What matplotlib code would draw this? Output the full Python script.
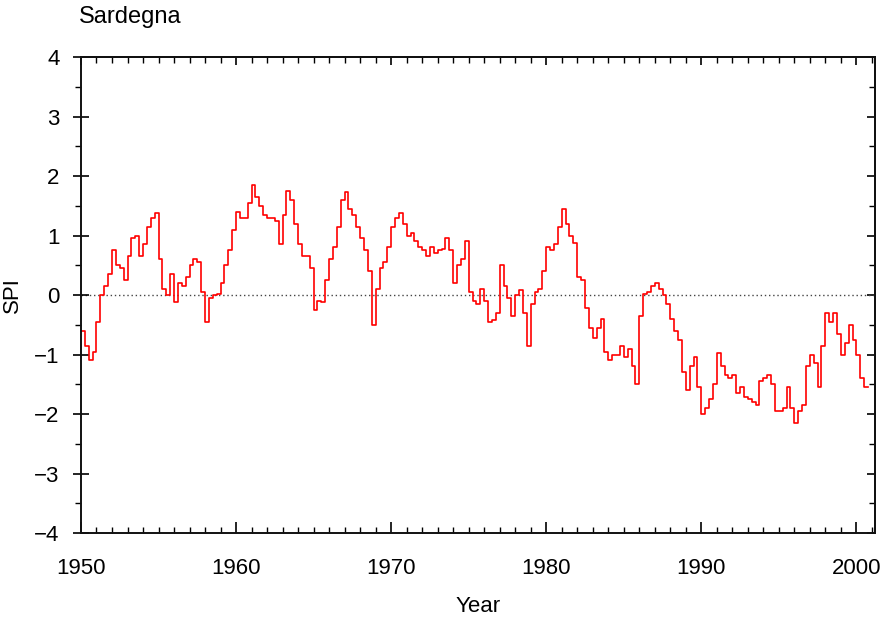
import numpy as np
import matplotlib
matplotlib.use("Agg")
import matplotlib.pyplot as plt
from matplotlib.ticker import MultipleLocator

plt.rcParams['font.family'] = ['Liberation Sans', 'DejaVu Sans']

# quarterly SPI values, one row per year
spi_1950s = [-0.60, -0.85, -1.10, -0.95,
             -0.45, 0.00, 0.15, 0.35,
             0.75, 0.50, 0.45, 0.25,
             0.65, 0.95, 1.00, 0.65,
             0.85, 1.15, 1.30, 1.38,
             0.60, 0.10, 0.00, 0.35,
             -0.12, 0.20, 0.15, 0.30,
             0.50, 0.60, 0.55, 0.05,
             -0.45, -0.05, 0.00, 0.02,
             0.20, 0.50, 0.75, 1.10]
spi_1960s = [1.40, 1.30, 1.30, 1.55,
             1.85, 1.65, 1.50, 1.35,
             1.30, 1.30, 1.25, 0.85,
             1.35, 1.75, 1.60, 1.20,
             0.85, 0.65, 0.65, 0.45,
             -0.25, -0.10, -0.12, 0.25,
             0.60, 0.80, 1.15, 1.60,
             1.73, 1.45, 1.35, 1.15,
             0.95, 0.75, 0.40, -0.50,
             0.10, 0.45, 0.55, 0.80]
spi_1970s = [1.15, 1.30, 1.38, 1.20,
             1.00, 1.05, 0.90, 0.80,
             0.75, 0.65, 0.80, 0.70,
             0.75, 0.78, 0.95, 0.75,
             0.20, 0.50, 0.60, 0.90,
             0.05, -0.10, -0.15, 0.10,
             -0.10, -0.45, -0.42, -0.30,
             0.50, 0.15, -0.05, -0.35,
             0.00, 0.08, -0.30, -0.85,
             -0.15, 0.05, 0.10, 0.40]
spi_1980s = [0.80, 0.75, 0.85, 1.15,
             1.45, 1.20, 1.00, 0.88,
             0.30, 0.25, -0.22, -0.55,
             -0.72, -0.55, -0.40, -0.95,
             -1.10, -1.00, -1.00, -0.85,
             -1.05, -0.90, -1.20, -1.50,
             -0.35, 0.02, 0.05, 0.15,
             0.20, 0.10, 0.00, -0.15,
             -0.40, -0.60, -0.75, -1.30,
             -1.60, -1.20, -1.05, -1.55]
spi_1990s = [-2.00, -1.90, -1.75, -1.50,
             -0.98, -1.20, -1.35, -1.40,
             -1.35, -1.65, -1.55, -1.72,
             -1.75, -1.80, -1.85, -1.45,
             -1.40, -1.35, -1.50, -1.95,
             -1.95, -1.90, -1.55, -1.90,
             -2.15, -1.95, -1.85, -1.20,
             -1.00, -1.15, -1.55, -0.85,
             -0.30, -0.45, -0.30, -0.65,
             -1.00, -0.80, -0.50, -0.75]
spi_2000s = [-1.00, -1.40, -1.55]

spi = np.array(spi_1950s + spi_1960s + spi_1970s + spi_1980s + spi_1990s + spi_2000s)
t = 1950 + 0.25 * np.arange(len(spi))
# repeat last value so the last step is drawn
t = np.append(t, t[-1] + 0.25)
spi = np.append(spi, spi[-1])

fig = plt.figure(figsize=(8.85, 6.17), dpi=100)
ax = fig.add_axes([0.0915, 0.1361, 0.8972, 0.7715])

ax.axhline(0, color='#444444', ls=(0, (1, 2)), lw=1.0, zorder=1)
ax.step(t, spi, where='post', color='#ff0000', lw=1.2, zorder=2)

ax.set_xlim(1950, 2001.2)
ax.set_ylim(-4, 4)

ax.xaxis.set_major_locator(MultipleLocator(10))
ax.xaxis.set_minor_locator(MultipleLocator(1))
ax.yaxis.set_major_locator(MultipleLocator(1))
ax.yaxis.set_minor_locator(MultipleLocator(0.5))
ax.yaxis.set_major_formatter(plt.FuncFormatter(lambda v, p: f"{v:.0f}".replace('-', '\u2212')))

ax.tick_params(axis='x', which='major', direction='in', length=8, width=1.2,
               pad=18, labelsize=16, top=False)
ax.tick_params(axis='x', which='minor', direction='in', length=4, width=1.0, top=False)
ax.tick_params(axis='y', which='major', direction='inout', length=11, width=1.2,
               pad=10, labelsize=16, right=False)
ax.tick_params(axis='y', which='minor', direction='out', length=4, width=1.0, right=False)

# top and right ticks point inward, without labels
top = ax.secondary_xaxis('top')
top.xaxis.set_major_locator(MultipleLocator(10))
top.xaxis.set_minor_locator(MultipleLocator(1))
top.tick_params(which='major', direction='in', length=6, width=1.2, labeltop=False)
top.tick_params(which='minor', direction='in', length=4, width=1.0)
right = ax.secondary_yaxis('right')
right.yaxis.set_major_locator(MultipleLocator(1))
right.yaxis.set_minor_locator(MultipleLocator(0.5))
right.tick_params(which='major', direction='in', length=6, width=1.2, labelright=False)
right.tick_params(which='minor', direction='in', length=4, width=1.0)

for sp in list(ax.spines.values()) + [top.spines['top'], right.spines['right']]:
    sp.set_linewidth(1.4)
    sp.set_color('#111111')

ax.set_xlabel('Year', fontsize=16, labelpad=12)
ax.set_ylabel('SPI', fontsize=16, labelpad=8)
fig.text(0.089, 0.962, 'Sardegna', fontsize=17, ha='left', va='baseline')

fig.savefig('out.png', dpi=100)
